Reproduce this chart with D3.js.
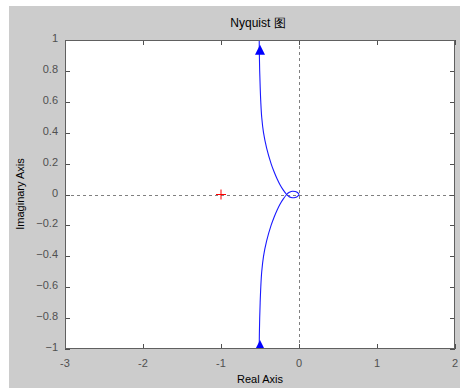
<!DOCTYPE html>
<html><head><meta charset="utf-8">
<script src="https://cdn.jsdelivr.net/npm/d3@7"></script>
<style>body{margin:0;background:#fff}svg{display:block}</style>
</head><body>
<svg id="c" width="460" height="388"></svg>
<script>
// Data (real, imaginary), positive-frequency branch
const branchReal = [-0.51,-0.508,-0.504,-0.498,-0.49,-0.478,-0.455,-0.415,-0.358,-0.322,-0.28,-0.24,-0.203,-0.158,-0.13,-0.10,-0.077,-0.05,-0.025,-0.009,-0.002,0];
const branchImag = [-1.0,-0.9,-0.8,-0.7,-0.6,-0.5,-0.4,-0.3,-0.2,-0.15,-0.1,-0.06,-0.03,0.0,0.013,0.02,0.021,0.019,0.014,0.008,0.003,0];
const arrowPts = [[-0.5, 0.93], [-0.5, -0.98]];
const criticalPoint = [-1, 0];
const xTicks = [-3,-2,-1,0,1,2];
const yTicks = [-1,-0.8,-0.6,-0.4,-0.2,0,0.2,0.4,0.6,0.8,1];
const titleText = "Nyquist 图";
const xLabel = "Real Axis";
const yLabel = "Imaginary Axis";

const svg = d3.select("#c");
const L=65, R=455, T=40, B=349;
const x = d3.scaleLinear().domain([-3,2]).range([L,R]);
const y = d3.scaleLinear().domain([-1,1]).range([B,T]);
const font = "'Liberation Sans', Arial, sans-serif";
const tickCol = "#505050";

svg.append("rect").attr("x",9).attr("y",6).attr("width",451).attr("height",382).attr("fill","#cccccc");
svg.append("rect").attr("x",L).attr("y",T).attr("width",R-L).attr("height",B-T).attr("fill","#fff");

svg.append("defs").append("clipPath").attr("id","pc").append("rect")
  .attr("x",L).attr("y",T).attr("width",R-L).attr("height",B-T);
const plot = svg.append("g").attr("clip-path","url(#pc)");

// dashed zero lines
plot.append("line").attr("x1",L).attr("x2",R).attr("y1",Math.round(y(0))+0.5).attr("y2",Math.round(y(0))+0.5)
  .attr("stroke","#808080").attr("stroke-dasharray","3,3");
plot.append("line").attr("x1",Math.round(x(0))+0.5).attr("x2",Math.round(x(0))+0.5).attr("y1",T).attr("y2",B)
  .attr("stroke","#808080").attr("stroke-dasharray","3,3");

// curves
const pos = branchReal.map((r,i)=>[r,branchImag[i]]);
const neg = pos.map(p=>[p[0],-p[1]]);
const line = d3.line().x(d=>x(d[0])).y(d=>y(d[1])).curve(d3.curveCatmullRom);
[pos,neg].forEach(d=>plot.append("path").attr("d",line(d)).attr("fill","none")
  .attr("stroke","#1a1aff").attr("stroke-width",1.1));

// arrows
arrowPts.forEach(p=>{
  const cx=x(p[0]), cy=y(p[1]);
  plot.append("path").attr("d",`M${cx},${cy-6}L${cx+5},${cy+4}L${cx-5},${cy+4}Z`).attr("fill","#0000ff");
});

// critical point
const cx=x(criticalPoint[0]), cy=y(criticalPoint[1]);
plot.append("path").attr("d",`M${cx-5},${cy}H${cx+5}M${cx},${cy-5}V${cy+5}`).attr("stroke","#ff0000").attr("stroke-width",1);

// axes
const ax = svg.append("g");
xTicks.forEach(t=>{
  const px=Math.round(x(t))+0.5;
  ax.append("line").attr("x1",px).attr("x2",px).attr("y1",B).attr("y2",B-5).attr("stroke",tickCol);
  ax.append("line").attr("x1",px).attr("x2",px).attr("y1",T).attr("y2",T+5).attr("stroke",tickCol);
  ax.append("text").attr("x",x(t)).attr("y",B+18).attr("text-anchor","middle")
    .attr("font-family",font).attr("font-size",11).attr("fill",tickCol).text(t);
});
yTicks.forEach(t=>{
  const py=Math.round(y(t))+0.5;
  ax.append("line").attr("x1",L).attr("x2",L+5).attr("y1",py).attr("y2",py).attr("stroke",tickCol);
  ax.append("line").attr("x1",R).attr("x2",R-5).attr("y1",py).attr("y2",py).attr("stroke",tickCol);
  ax.append("text").attr("x",L-7).attr("y",y(t)+2).attr("text-anchor","end")
    .attr("font-family",font).attr("font-size",11).attr("fill",tickCol).text(d3.format("")(t));
});
ax.append("rect").attr("x",L+0.5).attr("y",T+0.5).attr("width",R-L-1).attr("height",B-T-1)
  .attr("fill","none").attr("stroke","#606060");

svg.append("text").attr("x",258).attr("y",27).attr("text-anchor","middle")
  .attr("font-family",font).attr("font-size",12).attr("fill","#000").text(titleText);
svg.append("text").attr("x",260).attr("y",383).attr("text-anchor","middle")
  .attr("font-family",font).attr("font-size",11).attr("fill","#000").text(xLabel);
svg.append("text").attr("transform","translate(24,194) rotate(-90)").attr("text-anchor","middle")
  .attr("font-family",font).attr("font-size",11).attr("fill","#000").text(yLabel);
</script>
</body></html>
